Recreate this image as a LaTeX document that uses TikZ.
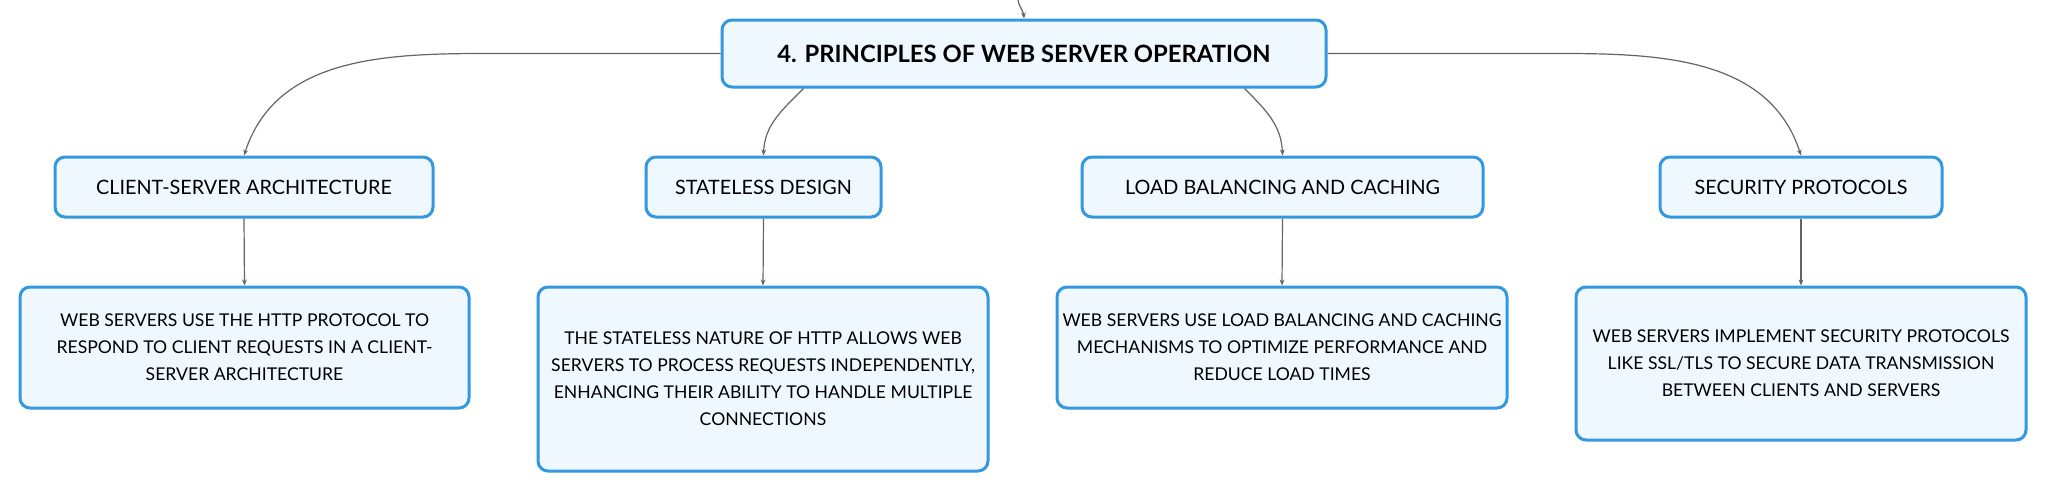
\documentclass[tikz,border=0pt]{standalone}
\usepackage{fontspec}
\setmainfont{Lato}
\usetikzlibrary{arrows.meta}
\definecolor{boxblue}{RGB}{52,152,224}
\definecolor{boxfill}{RGB}{239,248,254}
\definecolor{linkgray}{RGB}{100,100,100}
\tikzset{
	topic/.style={draw=boxblue,fill=boxfill,line width=1.5pt,rounded corners=5pt,inner sep=0pt,align=center},
	maintopic/.style={topic,font=\fontsize{11.9}{14}\selectfont\bfseries},
	subtopic/.style={topic,font=\fontsize{9.9}{12}\selectfont},
	detail/.style={topic,font=\fontsize{8.8}{13.5}\selectfont},
	link/.style={draw=linkgray,line width=0.6pt,-{Stealth[length=3pt,width=2.4pt]}}
}
\begin{document}
\begin{tikzpicture}[x=0.5pt,y=-0.5pt]
			\useasboundingbox (0,0) rectangle (2046,494);
			
			\node[maintopic,minimum width=302pt,minimum height=33.5pt] (main) at (1024,53.5) {4. PRINCIPLES OF WEB SERVER OPERATION};
			\coordinate (parent) at (1018,0);
			
			\node[subtopic,minimum width=189pt,minimum height=30pt] (cs) at (244,187) {CLIENT-SERVER ARCHITECTURE};
			\node[subtopic,minimum width=117.5pt,minimum height=30pt] (sd) at (763.5,187) {STATELESS DESIGN};
			\node[subtopic,minimum width=200.5pt,minimum height=30pt] (lb) at (1282.5,187) {LOAD BALANCING AND CACHING};
			\node[subtopic,minimum width=141pt,minimum height=30pt] (sp) at (1801,187) {SECURITY PROTOCOLS};
			
			\node[detail,minimum width=224.5pt,minimum height=60.5pt] (csd) at (244.5,347.5) {WEB SERVERS USE THE HTTP PROTOCOL TO\\RESPOND TO CLIENT REQUESTS IN A CLIENT-\\SERVER ARCHITECTURE};
			\node[detail,minimum width=225pt,minimum height=92pt] (sdd) at (763,379) {THE STATELESS NATURE OF HTTP ALLOWS WEB\\SERVERS TO PROCESS REQUESTS INDEPENDENTLY,\\ENHANCING THEIR ABILITY TO HANDLE MULTIPLE\\CONNECTIONS};
			\node[detail,minimum width=225pt,minimum height=60.5pt] (lbd) at (1282,347.5) {WEB SERVERS USE LOAD BALANCING AND CACHING\\MECHANISMS TO OPTIMIZE PERFORMANCE AND\\REDUCE LOAD TIMES};
			\node[detail,minimum width=225pt,minimum height=76.5pt] (spd) at (1801,363.5) {WEB SERVERS IMPLEMENT SECURITY PROTOCOLS\\LIKE SSL/TLS TO SECURE DATA TRANSMISSION\\BETWEEN CLIENTS AND SERVERS};
			
			\draw[link] (parent) to[out=-80,in=95] (main.north);
			
			\draw[link] (main.west) -- ++(-234,0) to[out=180,in=72] (cs.north);
			\draw[link] (main.south west) ++(83,0) to[out=225,in=88] (sd.north);
			\draw[link] (main.south east) ++(-83,0) to[out=-45,in=92] (lb.north);
			\draw[link] (main.east) -- ++(234,0) to[out=0,in=108] (sp.north);
			
			\draw[link] (cs.south) -- (csd.north);
			\draw[link] (sd.south) -- (sdd.north);
			\draw[link] (lb.south) -- (lbd.north);
			\draw[link] (sp.south) -- (spd.north);
		\end{tikzpicture}
\end{document}
